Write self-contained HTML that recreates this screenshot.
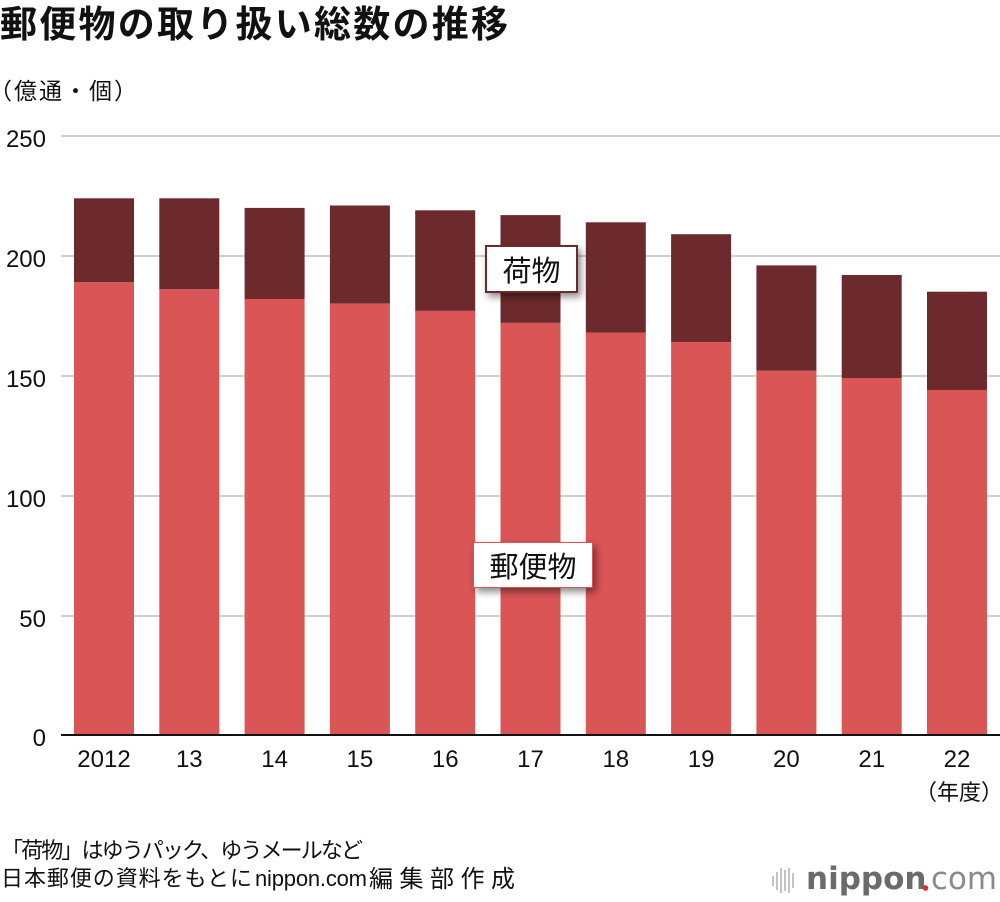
<!DOCTYPE html>
<html><head><meta charset="utf-8">
<style>
html,body{margin:0;padding:0;background:#fff;}
body{width:1000px;height:902px;position:relative;overflow:hidden;font-family:"Liberation Sans","Noto Sans CJK JP",sans-serif;}
svg{position:absolute;left:0;top:0;}
.lbl{position:absolute;background:#fff;box-sizing:border-box;display:flex;align-items:center;justify-content:center;font-family:"Liberation Sans","Noto Sans CJK JP",sans-serif;font-size:29px;color:#111;box-shadow:3px 4px 7px rgba(0,0,0,0.45);}
</style></head>
<body>
<svg width="1000" height="902" viewBox="0 0 1000 902" xmlns="http://www.w3.org/2000/svg">
<g font-family="Liberation Sans, Noto Sans CJK JP, sans-serif">
<text x="0" y="37" font-size="37" font-weight="bold" fill="#111" font-family="Noto Sans CJK JP, sans-serif" textLength="508" lengthAdjust="spacing">郵便物の取り扱い総数の推移</text>
<text x="-11" y="99" font-size="23" fill="#111" textLength="148" lengthAdjust="spacing">（億通・個）</text>
</g>
<!-- gridlines -->
<g stroke="#d0d0d0" stroke-width="2">
<line x1="61" y1="136" x2="1000" y2="136"/>
<line x1="61" y1="256" x2="1000" y2="256"/>
<line x1="61" y1="376" x2="1000" y2="376"/>
<line x1="61" y1="496" x2="1000" y2="496"/>
<line x1="61" y1="616" x2="1000" y2="616"/>
</g>
<!-- y labels -->
<g font-family="Liberation Sans, sans-serif" font-size="24" fill="#111" text-anchor="end">
<text x="46" y="147">250</text>
<text x="46" y="267">200</text>
<text x="46" y="387">150</text>
<text x="46" y="507">100</text>
<text x="46" y="627">50</text>
<text x="46" y="746">0</text>
</g>
<!-- bars -->
<g>
<rect x="74" y="198.3" width="60" height="84" fill="#6c2a2c"/><rect x="74" y="282.2" width="60" height="452.8" fill="#d95556"/>
<rect x="159.3" y="198.3" width="60" height="91" fill="#6c2a2c"/><rect x="159.3" y="289.3" width="60" height="445.7" fill="#d95556"/>
<rect x="244.6" y="207.9" width="60" height="91.1" fill="#6c2a2c"/><rect x="244.6" y="299.0" width="60" height="436" fill="#d95556"/>
<rect x="329.9" y="205.5" width="60" height="98.2" fill="#6c2a2c"/><rect x="329.9" y="303.7" width="60" height="431.3" fill="#d95556"/>
<rect x="415.2" y="210.3" width="60" height="100.6" fill="#6c2a2c"/><rect x="415.2" y="310.9" width="60" height="424.1" fill="#d95556"/>
<rect x="500.5" y="215.1" width="60" height="107.8" fill="#6c2a2c"/><rect x="500.5" y="322.9" width="60" height="412.1" fill="#d95556"/>
<rect x="585.8" y="222.3" width="60" height="110.2" fill="#6c2a2c"/><rect x="585.8" y="332.5" width="60" height="402.5" fill="#d95556"/>
<rect x="671.1" y="234.2" width="60" height="107.9" fill="#6c2a2c"/><rect x="671.1" y="342.1" width="60" height="392.9" fill="#d95556"/>
<rect x="756.4" y="265.4" width="60" height="105.4" fill="#6c2a2c"/><rect x="756.4" y="370.8" width="60" height="364.2" fill="#d95556"/>
<rect x="841.7" y="275.0" width="60" height="103" fill="#6c2a2c"/><rect x="841.7" y="378.0" width="60" height="357" fill="#d95556"/>
<rect x="927" y="291.7" width="60" height="98.3" fill="#6c2a2c"/><rect x="927" y="390.0" width="60" height="345" fill="#d95556"/>
</g>
<!-- axis -->
<rect x="61" y="734" width="939" height="2" fill="#111"/>
<!-- x labels -->
<g font-family="Liberation Sans, sans-serif" font-size="24" fill="#111" text-anchor="middle">
<text x="104" y="767">2012</text>
<text x="189.3" y="767">13</text>
<text x="274.6" y="767">14</text>
<text x="359.9" y="767">15</text>
<text x="445.2" y="767">16</text>
<text x="530.5" y="767">17</text>
<text x="615.8" y="767">18</text>
<text x="701.1" y="767">19</text>
<text x="786.4" y="767">20</text>
<text x="871.7" y="767">21</text>
<text x="957" y="767">22</text>
</g>
<text x="915" y="800" font-size="22" fill="#111" font-family="Liberation Sans, Noto Sans CJK JP, sans-serif">（年度）</text>
<!-- footer -->
<g font-family="Liberation Sans, Noto Sans CJK JP, sans-serif" font-size="22" fill="#111">
<text x="1" y="858" textLength="362" lengthAdjust="spacing">「荷物」はゆうパック、ゆうメールなど</text>
<text x="1" y="886" textLength="251" lengthAdjust="spacing">日本郵便の資料をもとに</text>
<text x="255" y="886" textLength="112" lengthAdjust="spacing">nippon.com</text>
<text x="369" y="887" font-size="24" textLength="146" lengthAdjust="spacing">編集部作成</text>
</g>
<!-- logo -->
<g fill="#c4c4c4">
<rect x="772" y="876" width="2" height="10"/>
<rect x="776" y="872" width="2" height="18"/>
<rect x="780" y="868" width="2" height="25"/>
<rect x="784" y="870" width="2" height="21"/>
<rect x="788" y="868" width="2" height="25"/>
<rect x="792" y="873" width="2" height="15"/>
</g>
<text x="806" y="889" font-family="DejaVu Sans, sans-serif" font-weight="bold" font-size="31" fill="#6b6b6b">nippon</text>
<circle cx="925.5" cy="888" r="2.8" fill="#e8262d"/>
<text x="931" y="889" font-family="DejaVu Sans, sans-serif" font-size="31" fill="#8a8a8a" textLength="66" lengthAdjust="spacingAndGlyphs">com</text>
</svg>
<div class="lbl" style="left:485px;top:245px;width:93px;height:48px;border:2px solid #6c2a2c;">荷物</div>
<div class="lbl" style="left:473px;top:542px;width:120px;height:46px;border:1.5px solid #d95556;">郵便物</div>
</body></html>
